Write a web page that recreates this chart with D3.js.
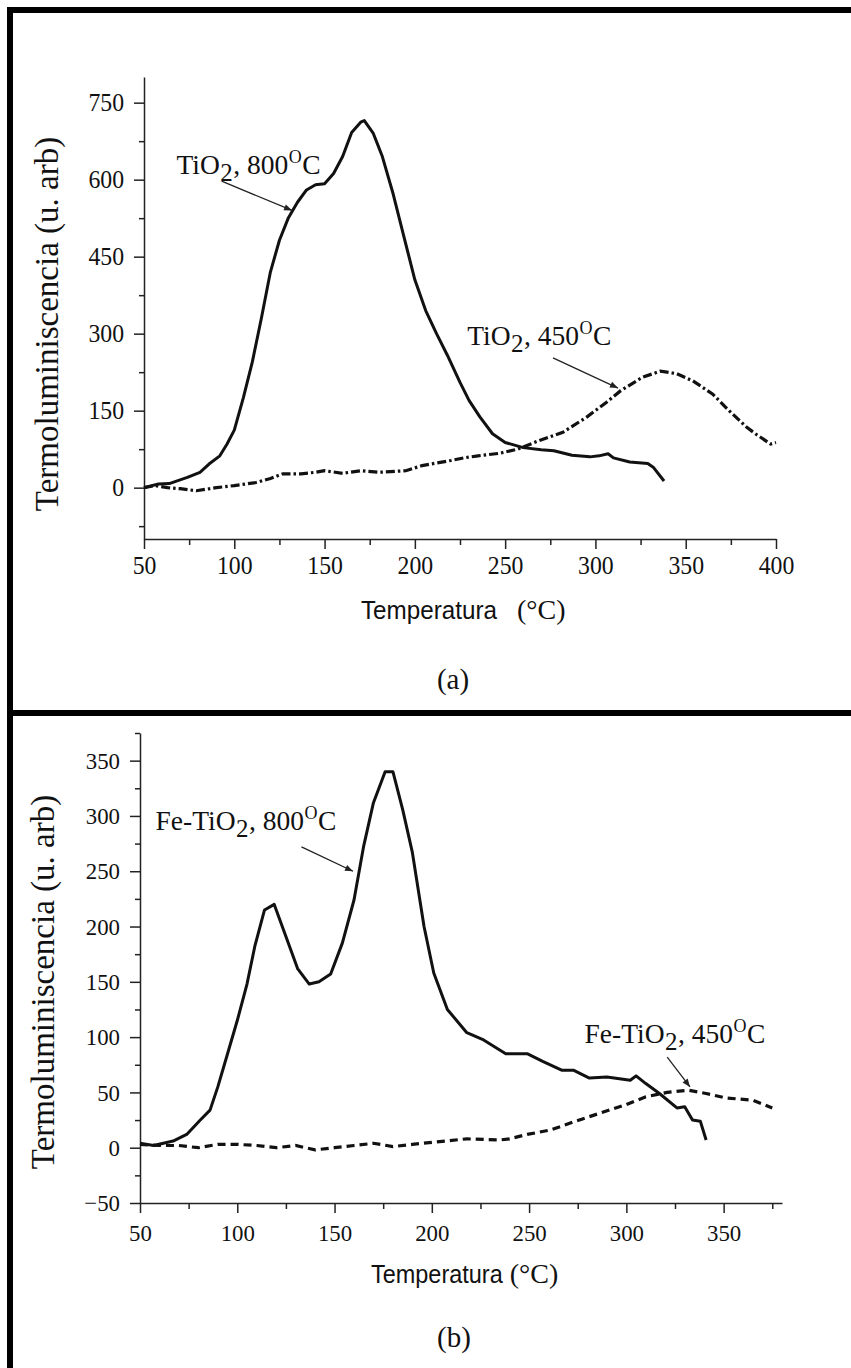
<!DOCTYPE html>
<html>
<head>
<meta charset="utf-8">
<script src="https://cdn.jsdelivr.net/npm/d3@7"></script>
<style>
  html, body { margin: 0; padding: 0; background: #fff; }
  svg { display: block; }
</style>
</head>
<body>
<svg id="chart" width="851" height="1368"></svg>
<script>
// ---------------- DATA ----------------
// Panel (a): TiO2
const tempA800 = [50, 58, 64, 74, 81, 86, 92, 96, 100, 105, 110, 115, 120, 125, 130, 135, 140, 145, 150, 155, 160, 165, 170, 172, 177, 182, 188, 194, 200, 206, 212, 218, 225, 230, 236, 243, 250, 260, 270, 277, 287, 297, 302, 307, 310, 319, 329, 332, 338];
const valA800  = [0, 7, 8, 20, 30, 46, 62, 85, 112, 175, 245, 330, 420, 482, 526, 556, 580, 590, 592, 612, 645, 692, 712, 715, 690, 645, 572, 488, 405, 345, 300, 258, 205, 170, 138, 105, 88, 78, 74, 72, 63, 60, 62, 66, 58, 50, 47, 40, 13];
const tempA450 = [50, 56, 63, 70, 79, 90, 100, 112, 120, 127, 137, 145, 150, 160, 170, 180, 195, 204, 212, 220, 227, 235, 247, 257, 269, 282, 295, 306, 314, 326, 336, 345, 354, 365, 374, 384, 389, 397, 400];
const valA450  = [0, 4, 0, -2, -6, 0, 4, 10, 18, 27, 27, 30, 33, 28, 33, 30, 33, 43, 48, 53, 58, 62, 67, 75, 92, 108, 137, 166, 189, 215, 227, 222, 208, 182, 150, 117, 104, 85, 88];
// Panel (b): Fe-TiO2
const tempB800 = [50, 57, 67, 74, 81, 86, 90, 95, 100, 105, 109, 114, 119, 125, 131, 137, 142, 148, 154, 160, 165, 170, 176, 180, 185, 190, 196, 201, 208, 218, 226, 238, 249, 257, 267, 273, 281, 290, 302, 305, 310, 317, 326, 330, 334, 338, 341];
const valB800  = [4, 2, 6, 12, 25, 34, 55, 85, 115, 148, 182, 215, 220, 191, 162, 148, 150, 157, 185, 224, 273, 312, 340, 340, 306, 267, 200, 158, 125, 104, 98, 85, 85, 78, 70, 70, 63, 64, 61, 65, 58, 49, 36, 37, 25, 24, 7];
const tempB450 = [50, 60, 70, 80, 90, 100, 110, 120, 130, 140, 150, 160, 170, 180, 190, 201, 218, 235, 240, 249, 261, 274, 286, 300, 310, 321, 332, 341, 351, 365, 375];
const valB450  = [3, 2, 2, 0, 3, 3, 2, 0, 2, -2, 0, 2, 4, 1, 3, 5, 8, 7, 8, 12, 16, 24, 31, 39, 46, 50, 52, 49, 45, 43, 36];

// Axis tick values / labels
const xTicksA = [50, 100, 150, 200, 250, 300, 350, 400];
const xMinorA = [75, 125, 175, 225, 275, 325, 375];
const yTicksA = [0, 150, 300, 450, 600, 750];
const yMinorA = [-75, 75, 225, 375, 525, 675];
const xTicksB = [50, 100, 150, 200, 250, 300, 350];
const xMinorB = [75, 125, 175, 225, 275, 325, 375];
const yTicksB = [-50, 0, 50, 100, 150, 200, 250, 300, 350];
const yMinorB = [-25, 25, 75, 125, 175, 225, 275, 325, 375];

const yTitle = "Termoluminiscencia (u. arb)";
const xTitleWord = "Temperatura";
const xTitleUnit = "(°C)";
const panelNames = ["(a)", "(b)"];

// Annotations (data coordinates)
const annA = [
  { prefix: "", num: "800", lx: 68, lv: 611, from: [93, 597], to: [132, 540] },
  { prefix: "", num: "450", lx: 229, lv: 278, from: [276.5, 253], to: [312.5, 194] }
];
const annB = [
  { prefix: "Fe-", num: "800", lx: 58, lv: 287, from: [133, 272], to: [159.5, 250] },
  { prefix: "Fe-", num: "450", lx: 278.5, lv: 95, from: [321, 82], to: [332.7, 55] }
];

// ---------------- DRAW ----------------
const svg = d3.select("#chart");
const serif = "'Liberation Serif', 'Times New Roman', serif";
const sans = "'Liberation Sans', Arial, sans-serif";

svg.append("defs").append("marker")
  .attr("id", "arr").attr("markerUnits", "userSpaceOnUse")
  .attr("viewBox", "0 0 10 10").attr("refX", 10).attr("refY", 5)
  .attr("markerWidth", 11).attr("markerHeight", 8).attr("orient", "auto")
  .append("path").attr("d", "M0,1 L10,5 L0,9 Z").attr("fill", "#222");

// frame
svg.append("rect").attr("x", 7).attr("y", 7).attr("width", 844).attr("height", 6).attr("fill", "#000");
svg.append("rect").attr("x", 7).attr("y", 7).attr("width", 6).attr("height", 1361).attr("fill", "#000");
svg.append("rect").attr("x", 7).attr("y", 710).attr("width", 844).attr("height", 6).attr("fill", "#000");

function squeeze(sel, f) {
  sel.each(function () {
    const w = this.getComputedTextLength();
    d3.select(this).attr("textLength", w * f).attr("lengthAdjust", "spacingAndGlyphs");
  });
}

// draw a label made of pieces (normal / sub / sup) as separate texts placed in sequence
function pieces(g, x, y, parts) {
  let cx = x;
  parts.forEach(p => {
    const t = g.append("text").attr("x", cx).attr("y", y + (p.dy || 0))
      .attr("font-family", serif).attr("font-size", p.size).attr("fill", "#111")
      .text(p.text);
    cx += t.node().getComputedTextLength() + (p.gap || 0);
  });
}

function panel(cfg) {
  const x = d3.scaleLinear().domain(cfg.xDom).range(cfg.xRange);
  const y = d3.scaleLinear().domain(cfg.yDom).range(cfg.yRange);
  const g = svg.append("g");
  const y0 = cfg.yRange[0], x0 = cfg.xRange[0];

  // minor ticks
  g.append("g").attr("transform", `translate(0,${y0})`)
    .call(d3.axisBottom(x).tickValues(cfg.xMinor).tickSize(6).tickSizeOuter(0).tickFormat(""))
    .call(s => s.select(".domain").remove());
  g.append("g").attr("transform", `translate(${x0},0)`)
    .call(d3.axisLeft(y).tickValues(cfg.yMinor).tickSize(5).tickSizeOuter(0).tickFormat(""))
    .call(s => s.select(".domain").remove());

  // major axes
  const xa = g.append("g").attr("transform", `translate(0,${y0})`)
    .call(d3.axisBottom(x).tickValues(cfg.xTicks).tickSize(10).tickSizeOuter(0).tickPadding(cfg.xPad));
  const ya = g.append("g").attr("transform", `translate(${x0},0)`)
    .call(d3.axisLeft(y).tickValues(cfg.yTicks).tickSize(10).tickSizeOuter(0).tickPadding(10));
  [xa, ya].forEach(a => {
    a.attr("font-size", null).attr("font-family", null);
    a.selectAll("text").attr("font-family", serif).attr("font-size", cfg.tickFs).attr("fill", "#111");
    squeeze(a.selectAll("text"), 0.95);
  });
  g.selectAll(".domain, .tick line").attr("stroke", "#222").attr("stroke-width", 1.5);

  // curves
  const line = d3.line().x(d => x(d[0])).y(d => y(d[1]));
  g.append("path").datum(d3.zip(cfg.t800, cfg.v800)).attr("d", line)
    .attr("fill", "none").attr("stroke", "#111").attr("stroke-width", 3).attr("stroke-linejoin", "round");
  g.append("path").datum(d3.zip(cfg.t450, cfg.v450)).attr("d", line)
    .attr("fill", "none").attr("stroke", "#111").attr("stroke-width", 3.2)
    .attr("stroke-dasharray", cfg.dash);

  // annotations
  cfg.ann.forEach(a => {
    g.append("line").attr("x1", x(a.from[0])).attr("y1", y(a.from[1]))
      .attr("x2", x(a.to[0])).attr("y2", y(a.to[1]))
      .attr("stroke", "#222").attr("stroke-width", 1.3).attr("marker-end", "url(#arr)");
    pieces(g, x(a.lx), y(a.lv), [
      { text: a.prefix + "TiO", size: 27.5, gap: 0.5 },
      { text: "2", size: 25, dy: 7, gap: 0.5 },
      { text: ", " + a.num, size: 27.5, gap: 0.5 },
      { text: "O", size: 18, dy: -11, gap: 0.5 },
      { text: "C", size: 27.5 }
    ]);
  });

  // axis titles
  const word = g.append("text").attr("x", cfg.xTitleX).attr("y", cfg.xTitleY).attr("fill", "#111")
    .attr("font-family", sans).attr("font-size", 25.5).text(xTitleWord);
  squeeze(word, cfg.wordSqueeze);
  const ww = +word.attr("textLength");
  g.append("text").attr("x", cfg.xTitleX + ww + cfg.unitGap).attr("y", cfg.xTitleY).attr("fill", "#111")
    .attr("font-family", serif).attr("font-size", 28).text(xTitleUnit);

  const cy = (cfg.yRange[0] + cfg.yRange[1]) / 2 + cfg.yTitleShift;
  g.append("text").attr("transform", `translate(${cfg.yTitleX},${cy}) rotate(-90)`)
    .attr("text-anchor", "middle").attr("font-family", serif).attr("font-size", 33)
    .attr("fill", "#111").text(yTitle);

  g.append("text").attr("x", cfg.nameX).attr("y", cfg.nameY).attr("text-anchor", "middle")
    .attr("font-family", serif).attr("font-size", 29).attr("fill", "#111").text(cfg.name);
}

panel({
  xDom: [50, 400], xRange: [144, 776], yDom: [-100, 800], yRange: [539, 77],
  xTicks: xTicksA, xMinor: xMinorA, yTicks: yTicksA, yMinor: yMinorA,
  xPad: 7, tickFs: 25,
  t800: tempA800, v800: valA800, t450: tempA450, v450: valA450,
  dash: "9,3,2.5,3", ann: annA,
  xTitleX: 361, xTitleY: 619, wordSqueeze: 0.95, unitGap: 20, yTitleX: 58, yTitleShift: 16,
  name: panelNames[0], nameX: 453, nameY: 689
});

panel({
  xDom: [50, 380], xRange: [140, 782], yDom: [-50, 375], yRange: [1203, 733],
  xTicks: xTicksB, xMinor: xMinorB, yTicks: yTicksB, yMinor: yMinorB,
  xPad: 11, tickFs: 24,
  t800: tempB800, v800: valB800, t450: tempB450, v450: valB450,
  dash: "8,5", ann: annB,
  xTitleX: 371, xTitleY: 1283, wordSqueeze: 0.92, unitGap: 7, yTitleX: 54, yTitleShift: 14,
  name: panelNames[1], nameX: 454, nameY: 1347
});
</script>
</body>
</html>
